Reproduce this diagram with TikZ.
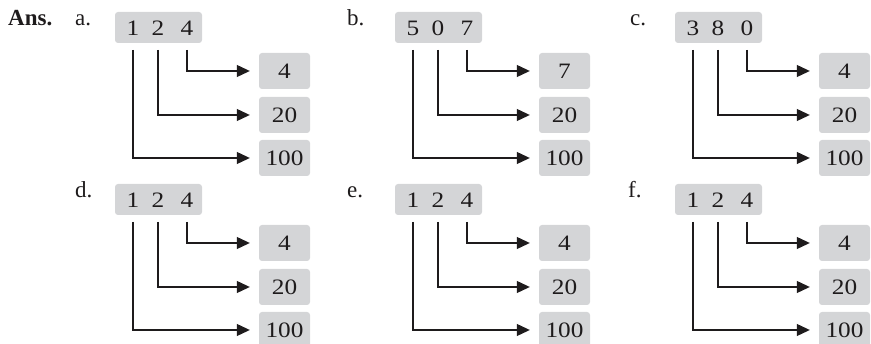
\documentclass[tikz,border=0pt]{standalone}
\usepackage{fontspec}
\setmainfont{Liberation Serif}
\newfontfamily\digfont[FakeStretch=1.15]{Liberation Serif}
\usetikzlibrary{arrows.meta}
\definecolor{boxgray}{RGB}{212,213,215}
\definecolor{ink}{RGB}{30,27,28}
\tikzset{
  topbox/.style={fill=boxgray,rounded corners=3pt,minimum width=87pt,minimum height=31pt,inner sep=0pt},
  resbox/.style={fill=boxgray,rounded corners=3pt,minimum width=51pt,minimum height=36pt,inner sep=0pt,text=ink,font=\digfont\fontsize{22}{22}\selectfont},
  dig/.style={inner sep=0pt,text=ink,font=\digfont\fontsize{22}{22}\selectfont},
  lbl/.style={anchor=base west,inner sep=0pt,text=ink,font=\fontsize{23}{23}\selectfont},
  conn/.style={draw=ink,line width=1.1pt,-{Triangle[length=13pt,width=12pt]},shorten >=9pt},
}
\newcommand\mypanel[9]{%
  \node[topbox] (#1top) at ({#2+43.5},{#3+15.5}) {};
  \node[dig] (#1d1) at ({#2+18},{#3+16}) {#4};
  \node[dig] (#1d2) at ({#2+43},{#3+16}) {#5};
  \node[dig] (#1d3) at ({#2+72},{#3+16}) {#6};
  \node[resbox] (#1r1) at ({#2+169.5},{#3+59}) {#7};
  \node[resbox] (#1r2) at ({#2+169.5},{#3+103}) {#8};
  \node[resbox] (#1r3) at ({#2+169.5},{#3+146}) {#9};
  \coordinate (#1st) at ({#2},{#3+38});
  \draw[conn] (#1d3 |- #1st) |- (#1r1.west);
  \draw[conn] (#1d2 |- #1st) |- (#1r2.west);
  \draw[conn] (#1d1 |- #1st) |- (#1r3.west);
}
\begin{document}
\begin{tikzpicture}[x=1pt,y=-1pt]
\useasboundingbox (0,0) rectangle (871,344);
\node[lbl,font=\bfseries\fontsize{23}{23}\selectfont] (ans) at (8,26) {Ans.};
\node[lbl] (la) at (75,26) {a.};
\node[lbl] (lb) at (347,26) {b.};
\node[lbl] (lc) at (630,26) {c.};
\node[lbl] (ld) at (75,198) {d.};
\node[lbl] (le) at (347,198) {e.};
\node[lbl] (lf) at (628,198) {f.};
\mypanel{a}{115}{12}{1}{2}{4}{4}{20}{100}
\mypanel{b}{395}{12}{5}{0}{7}{7}{20}{100}
\mypanel{c}{675}{12}{3}{8}{0}{4}{20}{100}
\mypanel{d}{115}{184}{1}{2}{4}{4}{20}{100}
\mypanel{e}{395}{184}{1}{2}{4}{4}{20}{100}
\mypanel{f}{675}{184}{1}{2}{4}{4}{20}{100}
\end{tikzpicture}
\end{document}
